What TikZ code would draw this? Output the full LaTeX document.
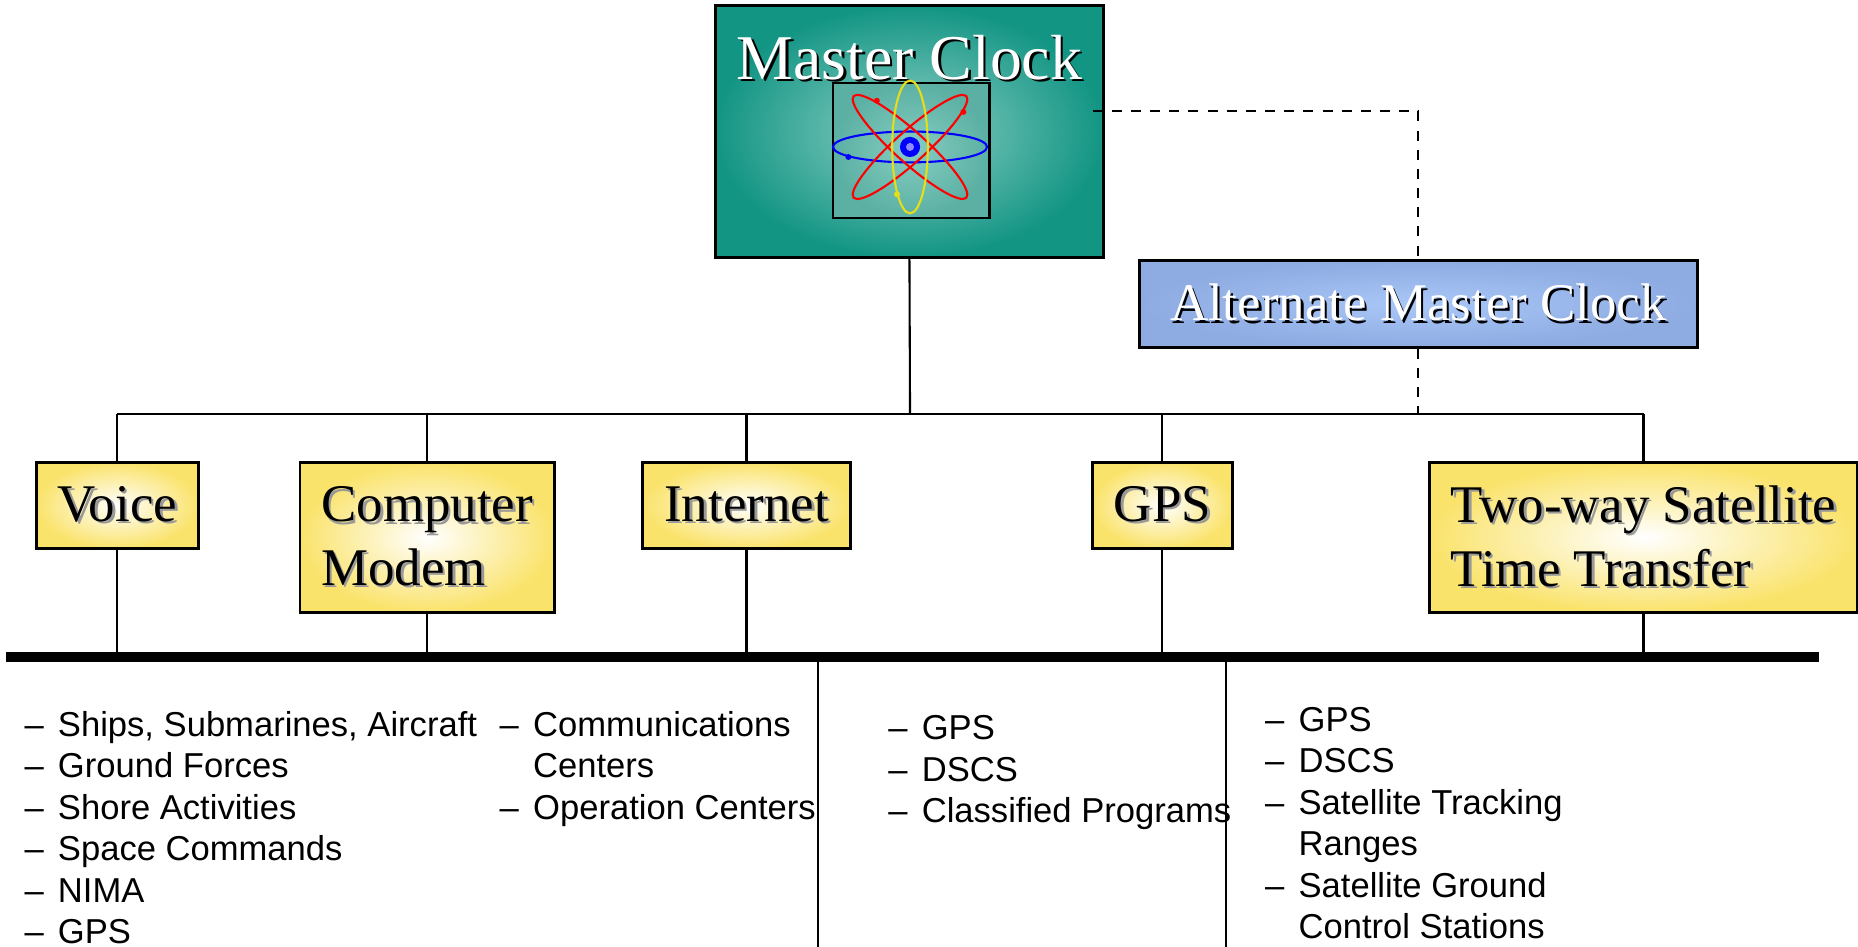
\documentclass[tikz,border=0pt]{standalone}
\usepackage{fontspec}
\setmainfont{Liberation Serif}
\setsansfont{Liberation Sans}

\definecolor{clockTeal}{HTML}{139584}
\definecolor{clockGlow}{HTML}{8ED0C5}
\definecolor{atomGlass}{HTML}{86CDC2}
\definecolor{atomEdge}{HTML}{5BB0A3}
\definecolor{altBlue}{HTML}{8EABE2}
\definecolor{altGlow}{HTML}{AAC7F8}
\definecolor{linkYellow}{HTML}{FAE36B}

% text with a small drop shadow
\newcommand{\shtext}[2]{\makebox[0pt][l]{\kern0.6pt\raisebox{-0.6pt}{\textcolor{#1}{#2}}}#2}

\tikzset{
  clockbox/.style={draw, line width=0.7pt, inner sep=0pt, inner color=clockGlow, outer color=clockTeal,
    minimum width=3.27cm, minimum height=2.12cm},
  clocktitle/.style={inner sep=0pt, text=white, font=\fontsize{15.3}{18}\selectfont},
  atombox/.style={draw, line width=0.6pt, inner sep=0pt, inner color=atomGlass, outer color=atomEdge,
    minimum width=1.32cm, minimum height=1.14cm},
  altbox/.style={draw, line width=0.7pt, inner sep=0pt, inner color=altGlow, outer color=altBlue,
    minimum width=4.71cm, minimum height=0.73cm, text=white, font=\fontsize{12.7}{15.3}\selectfont},
  linkbox/.style={draw, line width=0.7pt, inner xsep=0.18cm, inner ysep=0.08cm, inner color=white,
    outer color=linkYellow, minimum height=0.73cm, align=left, font=\fontsize{12.7}{15.3}\selectfont},
  link/.style={line width=0.5pt},
  backup/.style={line width=0.5pt, dash pattern=on 2.4pt off 2.2pt},
  bus/.style={line width=2.2pt},
  uselist/.style={anchor=north west, inner sep=0pt, align=left, font=\sffamily\fontsize{8.3}{9.96}\selectfont}
}

\begin{document}
\begin{tikzpicture}[x=0.01cm, y=-0.01cm]
  \path[use as bounding box, fill=white] (0,0) rectangle (1568,799);

  % master clock with the atom picture
  \node[clockbox] (mc) at (767.5,111) {};
  \node[clocktitle, anchor=base] (mctitle) at (767.5,67) {\shtext{black}{Master Clock}};
  \node[atombox] (atom) at (769,127) {};
  \coordinate (nuc) at (768,124);
  \draw[blue, line width=0.5pt] (nuc) ellipse [x radius=0.65cm, y radius=0.13cm];
  \draw[red, line width=0.5pt, rotate around={42:(nuc)}] (nuc) ellipse [x radius=0.64cm, y radius=0.13cm];
  \draw[red, line width=0.5pt, rotate around={-42:(nuc)}] (nuc) ellipse [x radius=0.64cm, y radius=0.13cm];
  \draw[yellow!90!black, line width=0.5pt] (nuc) ellipse [x radius=0.15cm, y radius=0.56cm];
  \fill[blue] (nuc) circle [radius=0.085cm];
  \fill[blue!45!white] (nuc) circle [radius=0.034cm];
  \fill[red] (nuc) ++(-28,-39) circle [radius=0.025cm];
  \fill[red] (nuc) ++(45,-29.5) circle [radius=0.025cm];
  \fill[blue] (nuc) ++(-52,8.5) circle [radius=0.025cm];
  \fill[yellow!90!black] (nuc) ++(-11,40) circle [radius=0.025cm];

  \node[altbox] (alt) at (1197,256.5) {\shtext{black}{Alternate Master Clock}};

  % transfer methods
  \node[linkbox] (voice) at (99,426.5) {\shtext{black!40}{Voice}};
  \node[linkbox, minimum height=1.27cm] (modem) at (360.5,453.5) {\shtext{black!40}{Computer}\\\shtext{black!40}{Modem}};
  \node[linkbox] (inet) at (630,426.5) {\shtext{black!40}{Internet}};
  \node[linkbox] (gps) at (981,426.5) {\shtext{black!40}{GPS}};
  \node[linkbox, minimum height=1.27cm] (twsat) at (1387,453.5) {\shtext{black!40}{Two-way Satellite}\\\shtext{black!40}{Time Transfer}};

  \coordinate (hub) at (768,349);
  \draw[link] (mc.south) -- (hub);
  \draw[link] (voice.north |- hub) -- (twsat.north |- hub);
  \foreach \n in {voice,modem,inet,gps,twsat}
    \draw[link] (\n.north) -- (\n.north |- hub);

  \coordinate (mcTap) at (922,94);
  \draw[backup] (mcTap) -| (alt.north);
  \draw[backup] (alt.south) -- (alt.south |- hub);

  % user bus
  \coordinate (busL) at (5,554.5);
  \coordinate (busR) at (1535,554.5);
  \foreach \n in {voice,modem,inet,gps,twsat}
    \draw[link] (\n.south) -- (\n.south |- busL);
  \draw[bus] (busL) -- (busR);
  \coordinate (sepA) at (690,799);
  \coordinate (sepB) at (1035,799);
  \draw[link] (sepA |- busL) -- (sepA);
  \draw[link] (sepB |- busL) -- (sepB);

  % users
  \node[uselist] (usersA) at (20,596) {\begin{tabular}{@{}l@{\hspace{0.12cm}}l@{}}
    \textendash & Ships, Submarines, Aircraft\\
    \textendash & Ground Forces\\
    \textendash & Shore Activities\\
    \textendash & Space Commands\\
    \textendash & NIMA\\
    \textendash & GPS
  \end{tabular}};
  \node[uselist] (usersB) at (421,596) {\begin{tabular}{@{}l@{\hspace{0.12cm}}l@{}}
    \textendash & Communications\\
     & Centers\\
    \textendash & Operation Centers
  \end{tabular}};
  \node[uselist] (usersC) at (749,599) {\begin{tabular}{@{}l@{\hspace{0.12cm}}l@{}}
    \textendash & GPS\\
    \textendash & DSCS\\
    \textendash & Classified Programs
  \end{tabular}};
  \node[uselist] (usersD) at (1067,592) {\begin{tabular}{@{}l@{\hspace{0.12cm}}l@{}}
    \textendash & GPS\\
    \textendash & DSCS\\
    \textendash & Satellite Tracking\\
     & Ranges\\
    \textendash & Satellite Ground\\
     & Control Stations
  \end{tabular}};
\end{tikzpicture}
\end{document}
